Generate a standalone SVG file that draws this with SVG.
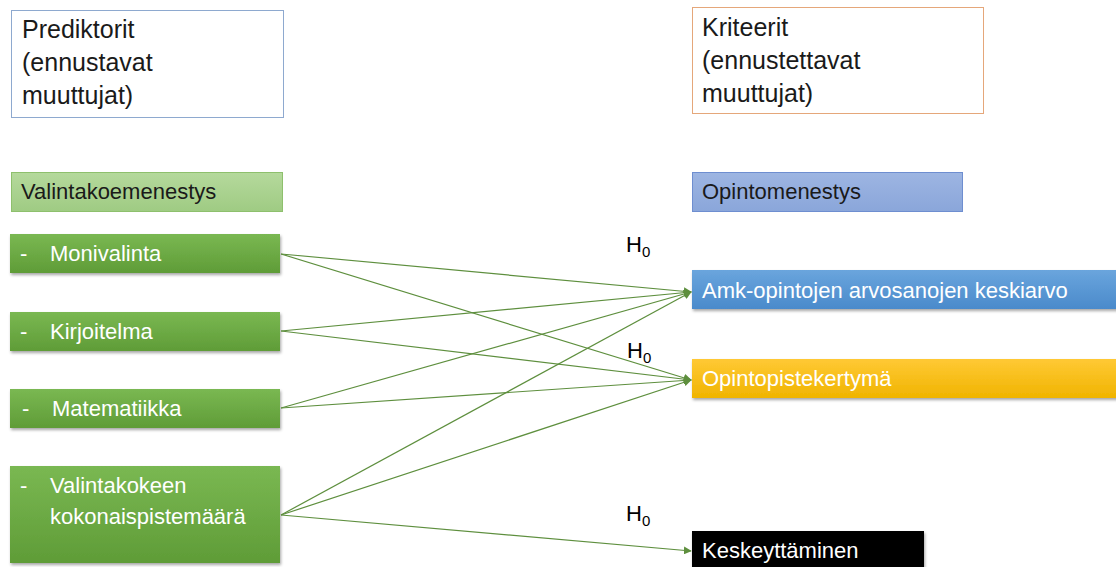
<svg xmlns="http://www.w3.org/2000/svg" width="1116" height="567" viewBox="0 0 1116 567">
<style>
text{font-family:"Liberation Sans",Arial,sans-serif;}
.hd{font-size:25px;fill:#1a1a1a;}
.lb{font-size:22px;fill:#ffffff;}
.lbd{font-size:22px;fill:#1a1a1a;}
.h0{font-size:22px;fill:#000;}
.h0 tspan.s{font-size:15px;}
.con line{stroke:#5e8f3e;stroke-width:1.2;fill:none;marker-end:url(#ah);}
.gb{fill:url(#gG);filter:url(#sh);}
</style>
<defs>
<marker id="ah" viewBox="0 0 10 10" refX="9" refY="5" markerWidth="8" markerHeight="8" markerUnits="userSpaceOnUse" orient="auto">
<path d="M0,0 L10,5 L0,10 z" fill="#5e8f3e"/>
</marker>
<linearGradient id="gG" x1="0" y1="0" x2="0" y2="1"><stop offset="0" stop-color="#7ab852"/><stop offset="1" stop-color="#5f9c37"/></linearGradient>
<linearGradient id="gL" x1="0" y1="0" x2="0" y2="1"><stop offset="0" stop-color="#b5d99c"/><stop offset="1" stop-color="#9fcb83"/></linearGradient>
<linearGradient id="gB" x1="0" y1="0" x2="0" y2="1"><stop offset="0" stop-color="#6aa5dd"/><stop offset="1" stop-color="#4a8acb"/></linearGradient>
<linearGradient id="gY" x1="0" y1="0" x2="0" y2="1"><stop offset="0" stop-color="#ffc935"/><stop offset="1" stop-color="#f0b400"/></linearGradient>
<linearGradient id="gP" x1="0" y1="0" x2="0" y2="1"><stop offset="0" stop-color="#9db5e2"/><stop offset="1" stop-color="#8aa6da"/></linearGradient>
<filter id="sh" x="-5%" y="-10%" width="110%" height="130%"><feDropShadow dx="1" dy="2" stdDeviation="1.5" flood-color="#000" flood-opacity="0.35"/></filter>
</defs>
<rect width="1116" height="567" fill="#ffffff"/>

<g id="prediktorit">
<rect x="11.5" y="10.5" width="272" height="107" fill="#fff" stroke="#8ea9cf" stroke-width="1"/>
<text class="hd" x="22" y="38">Prediktorit</text>
<text class="hd" x="22" y="71">(ennustavat</text>
<text class="hd" x="22" y="104">muuttujat)</text>
</g>

<g id="kriteerit">
<rect x="692.5" y="7.5" width="291" height="106" fill="#fff" stroke="#e5a77a" stroke-width="1"/>
<text class="hd" x="702" y="36">Kriteerit</text>
<text class="hd" x="702" y="69">(ennustettavat</text>
<text class="hd" x="702" y="102">muuttujat)</text>
</g>

<g id="valintakoemenestys">
<rect x="11.5" y="172.5" width="271" height="39" fill="url(#gL)" stroke="#8ec06d" stroke-width="1"/>
<text class="lbd" x="21" y="199">Valintakoemenestys</text>
</g>

<g id="opintomenestys">
<rect x="692.5" y="172.5" width="270" height="39" fill="url(#gP)" stroke="#6e8ed0" stroke-width="1"/>
<text class="lbd" x="702" y="199">Opintomenestys</text>
</g>

<g id="monivalinta">
<rect class="gb" x="10" y="234" width="270" height="39"/>
<text class="lb" x="20" y="261">-</text>
<text class="lb" x="50" y="261">Monivalinta</text>
</g>

<g id="kirjoitelma">
<rect class="gb" x="10" y="312" width="270" height="39"/>
<text class="lb" x="20" y="339">-</text>
<text class="lb" x="50" y="339">Kirjoitelma</text>
</g>

<g id="matematiikka">
<rect class="gb" x="10" y="389" width="270" height="39"/>
<text class="lb" x="22" y="416">-</text>
<text class="lb" x="52" y="416">Matematiikka</text>
</g>

<g id="valintakokeen">
<rect class="gb" x="10" y="466" width="270" height="97"/>
<text class="lb" x="20" y="493">-</text>
<text class="lb" x="50" y="493">Valintakokeen</text>
<text class="lb" x="50" y="524">kokonaispistemäärä</text>
</g>

<g id="amk">
<rect x="692" y="270" width="430" height="39" fill="url(#gB)" filter="url(#sh)"/>
<text class="lb" x="702" y="298">Amk-opintojen arvosanojen keskiarvo</text>
</g>

<g id="opintopistekertyma">
<rect x="692" y="359" width="430" height="39" fill="url(#gY)" filter="url(#sh)"/>
<text class="lb" x="702" y="386">Opintopistekertymä</text>
</g>

<g id="keskeyttaminen">
<rect x="692" y="531" width="232" height="40" fill="#000" filter="url(#sh)"/>
<text class="lb" x="702" y="558">Keskeyttäminen</text>
</g>

<g id="connectors" class="con">
<line x1="281" y1="254" x2="691" y2="292"/>
<line x1="281" y1="254" x2="691" y2="380"/>
<line x1="281" y1="331" x2="691" y2="292"/>
<line x1="281" y1="331" x2="691" y2="380"/>
<line x1="281" y1="408" x2="691" y2="292"/>
<line x1="281" y1="408" x2="691" y2="380"/>
<line x1="281" y1="515" x2="691" y2="292"/>
<line x1="281" y1="515" x2="691" y2="380"/>
<line x1="281" y1="515" x2="691" y2="551"/>
</g>

<g id="labels">
<text class="h0" x="626" y="252">H<tspan class="s" dy="5">0</tspan></text>
<text class="h0" x="627" y="358">H<tspan class="s" dy="5">0</tspan></text>
<text class="h0" x="626" y="521">H<tspan class="s" dy="5">0</tspan></text>
</g>
</svg>
